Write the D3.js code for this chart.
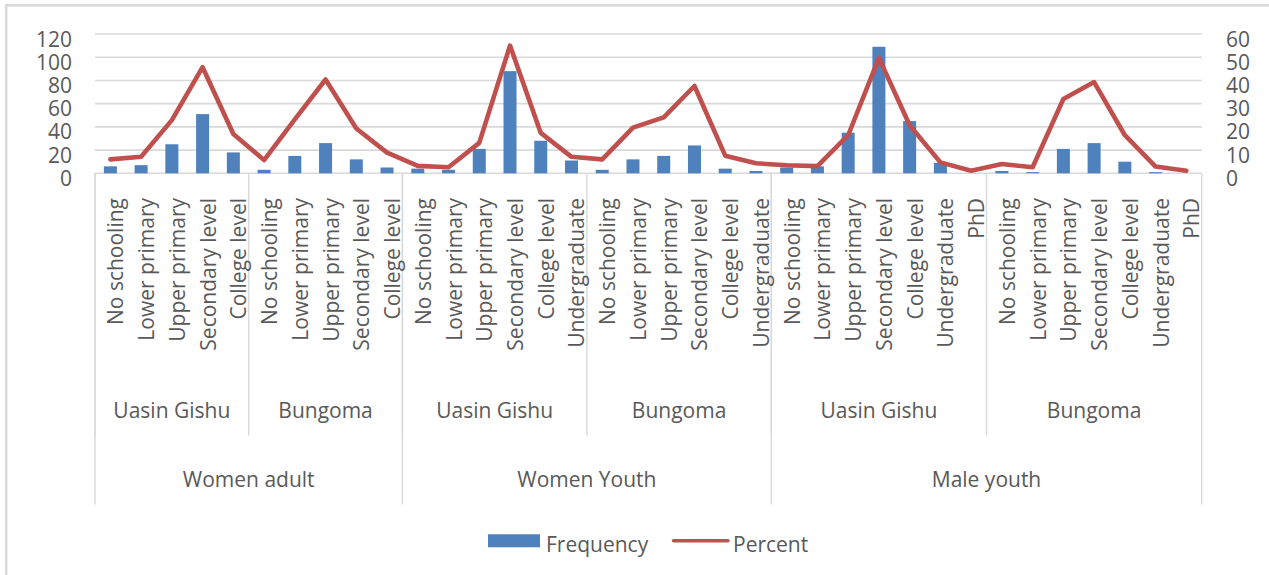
<!DOCTYPE html>
<html>
<head>
<meta charset="utf-8">
<script src="https://cdn.jsdelivr.net/npm/d3@7"></script>
<style>
  body{margin:0;background:#fff;}
  text{font-family:"Open Sans",sans-serif;fill:#595959;}
</style>
</head>
<body>
<svg id="chart"></svg>
<script>
let width = 1269, height = 575;

// data
const cohorts = ["Women adult","Women Youth","Male youth"];
const counties = ["Uasin Gishu","Bungoma"];
const levels = ["No schooling","Lower primary","Upper primary","Secondary level","College level","Undergraduate","PhD"];
const levelsPerCohort = [5,6,7];
const frequency = [6,7,25,51,18, 3,15,26,12,5,
                   4,3,21,88,28,11, 3,12,15,24,4,2,
                   5,6,35,109,45,9,0, 2,1,21,26,10,1,0];
const percent = [6.0,7.1,22.9,45.7,16.9, 5.7,23.2,40.4,19.3,8.9,
                 3.2,2.6,13.1,55,17.4,7.1, 6.0,19.7,24.1,37.6,7.6,4.3,
                 3.5,3.1,16.4,49.7,20.7,4.7,1.1, 4.0,2.6,32,39.3,16.4,2.9,1.1];
const leftTicks = [0,20,40,60,80,100,120];
const rightTicks = [0,10,20,30,40,50,60];

// build flat category list + group spans
let cats = [], lvl2 = [], lvl3 = [];
cohorts.forEach((c,ci)=>{
  let start3 = cats.length;
  counties.forEach(k=>{
    let start2 = cats.length;
    levels.slice(0,levelsPerCohort[ci]).forEach(l=>cats.push({cohort:c,county:k,level:l}));
    lvl2.push({name:k,start:start2,end:cats.length});
  });
  lvl3.push({name:c,start:start3,end:cats.length});
});
cats.forEach((d,i)=>{d.i=i;d.freq=frequency[i];d.pct=percent[i];});

const x0 = 95, x1 = 1201.7, yTop = 34, yZero = 173.3;
const fs = '21px';
const x = d3.scaleBand().domain(d3.range(cats.length)).range([x0,x1]);
const yL = d3.scaleLinear().domain([0,120]).range([yZero,yTop]);
const yR = d3.scaleLinear().domain([0,60]).range([yZero,yTop]);
const edge = i => i<cats.length ? x(i) : x1;

const svg = d3.select('#chart').attr('width',width).attr('height',height);
svg.append('rect').attr('width',width).attr('height',height).attr('fill','#fff');
// chart frame (only top/left inside the picture)
svg.append('rect').attr('x',6.2).attr('y',5.3).attr('width',1400).attr('height',700)
  .attr('fill','none').attr('stroke','#d9d9d9').attr('stroke-width',2.5);

// gridlines
svg.append('g').selectAll('line').data(leftTicks).join('line')
  .attr('x1',x0).attr('x2',x1).attr('y1',d=>yL(d)).attr('y2',d=>yL(d))
  .attr('stroke','#d9d9d9').attr('stroke-width',1.6);

// tick labels
svg.append('g').selectAll('text').data(leftTicks).join('text')
  .attr('x',72).attr('y',d=>yL(d)+12.5).attr('text-anchor','end')
  .style('font-size',fs).text(d=>d);
svg.append('g').selectAll('text').data(rightTicks).join('text')
  .attr('x',1226).attr('y',d=>yR(d)+12.5).attr('text-anchor','start')
  .style('font-size',fs).text(d=>d);

// multi-level category axis separators
svg.append('g').selectAll('line').data(lvl2).join('line')
  .attr('x1',d=>edge(d.start)).attr('x2',d=>edge(d.start))
  .attr('y1',yZero).attr('y2',435.5)
  .attr('stroke','#d9d9d9').attr('stroke-width',1.4);
svg.append('g').selectAll('line').data([...lvl3.map(d=>d.start),cats.length]).join('line')
  .attr('x1',d=>edge(d)).attr('x2',d=>edge(d))
  .attr('y1',yZero).attr('y2',504.5)
  .attr('stroke','#d9d9d9').attr('stroke-width',1.4);

// level 1 labels
svg.append('g').selectAll('text').data(cats).join('text')
  .attr('transform',d=>`translate(${x(d.i)+x.bandwidth()/2},198) rotate(-90)`)
  .attr('text-anchor','end').attr('dy',13)
  .style('font-size',fs).text(d=>d.level);
// level 2 labels
svg.append('g').selectAll('text').data(lvl2).join('text')
  .attr('x',d=>(edge(d.start)+edge(d.end))/2).attr('y',418)
  .attr('text-anchor','middle').style('font-size',fs).text(d=>d.name);
// level 3 labels
svg.append('g').selectAll('text').data(lvl3).join('text')
  .attr('x',d=>(edge(d.start)+edge(d.end))/2).attr('y',486.5)
  .attr('text-anchor','middle').style('font-size',fs).text(d=>d.name);

// bars
const bw = x.bandwidth()*0.423;
svg.append('g').selectAll('rect').data(cats).join('rect')
  .attr('x',d=>x(d.i)+(x.bandwidth()-bw)/2).attr('width',bw)
  .attr('y',d=>yL(d.freq)).attr('height',d=>yZero-yL(d.freq))
  .attr('fill','#4f81bd');

// percent line
svg.append('path').datum(cats)
  .attr('d',d3.line().x(d=>x(d.i)+x.bandwidth()/2).y(d=>yR(d.pct)))
  .attr('fill','none').attr('stroke','#c0504d').attr('stroke-width',4.6)
  .attr('stroke-linejoin','round').attr('stroke-linecap','round');

// legend
const lg = svg.append('g');
lg.append('rect').attr('x',488).attr('y',534.3).attr('width',52).attr('height',13).attr('fill','#4f81bd');
lg.append('text').attr('x',546).attr('y',552).style('font-size',fs).text('Frequency');
lg.append('line').attr('x1',673.5).attr('x2',728).attr('y1',540.7).attr('y2',540.7)
  .attr('stroke','#c0504d').attr('stroke-width',3.4).attr('stroke-linecap','round');
lg.append('text').attr('x',733).attr('y',552).style('font-size',fs).text('Percent');
</script>
</body>
</html>
